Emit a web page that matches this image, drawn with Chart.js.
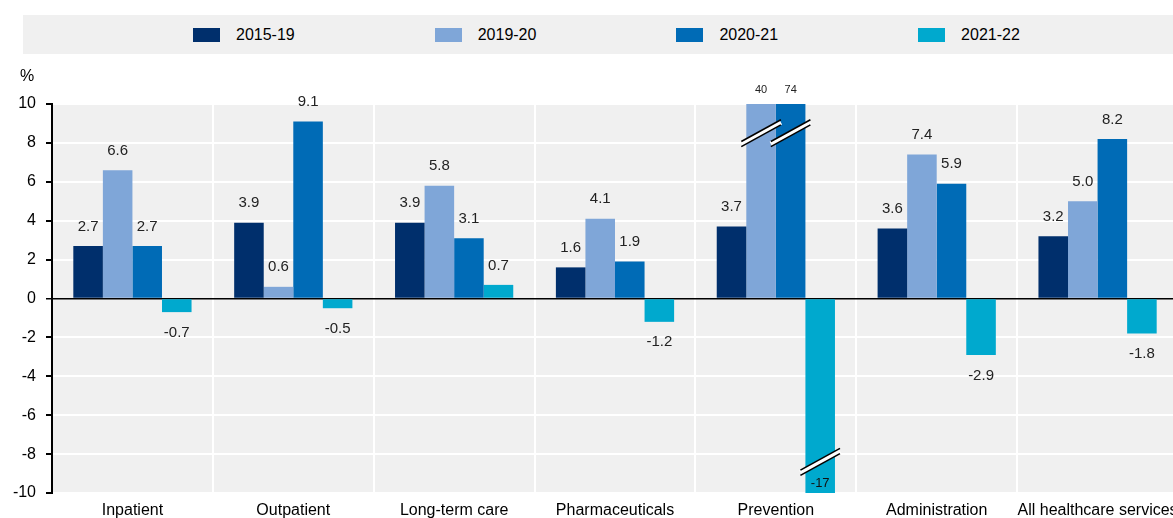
<!DOCTYPE html>
<html>
<head>
<meta charset="utf-8">
<script src="https://cdn.jsdelivr.net/npm/chart.js@4"></script>
<style>
  body { margin: 0; overflow: hidden; background: #fff; font-family: "Liberation Sans", Arial, sans-serif; }
  #wrap { position: relative; width: 1180px; height: 530px; }
  #legend { position: absolute; left: 23px; top: 15px; width: 1160px; height: 39px; background: #f0f0f0; }
  .item { position: absolute; top: 0; height: 39px; display: flex; align-items: center; font-size: 16px; color: #000; }
  .swatch { width: 27px; height: 14px; margin-right: 16px; }
</style>
</head>
<body>
<div id="wrap">
  <canvas id="chart" width="1180" height="530" style="width:1180px;height:530px"></canvas>
  <div id="legend"></div>
</div>
<script>
let categories = ['Inpatient', 'Outpatient', 'Long-term care', 'Pharmaceuticals', 'Prevention', 'Administration', 'All healthcare services'];
let seriesNames = ['2015-19', '2019-20', '2020-21', '2021-22'];
let s2015_19 = [2.7, 3.9, 3.9, 1.6, 3.7, 3.6, 3.2];
let s2019_20 = [6.6, 0.6, 5.8, 4.1, 40, 7.4, 5.0];
let s2020_21 = [2.7, 9.1, 3.1, 1.9, 74, 5.9, 8.2];
let s2021_22 = [-0.7, -0.5, 0.7, -1.2, -17, -2.9, -1.8];
let yMin = -10;
let yMax = 10;
let yStep = 2;

let colors = ['#002F6C', '#7FA6D8', '#006BB6', '#00A9CE'];
let seriesData = [s2015_19, s2019_20, s2020_21, s2021_22];
let font = '"Liberation Sans", Arial, sans-serif';

// html legend
let legend = document.getElementById('legend');
seriesNames.forEach((name, i) => {
    let item = document.createElement('div');
    item.className = 'item';
    item.style.left = (170 + i * 241.7) + 'px';
    let sw = document.createElement('span');
    sw.className = 'swatch';
    sw.style.background = colors[i];
    let txt = document.createElement('span');
    txt.textContent = name;
    item.appendChild(sw);
    item.appendChild(txt);
    legend.appendChild(item);
});

let backgroundPlugin = {
    id: 'bg',
    beforeDraw(chart) {
        let a = chart.chartArea;
        let ctx = chart.ctx;
        ctx.save();
        ctx.fillStyle = '#f0f0f0';
        ctx.fillRect(a.left, a.top, a.right - a.left, a.bottom - a.top);
        ctx.restore();
    }
};

function drawBreak(ctx, x, y, halfW) {
    let dx = halfW + 5;
    let dy = dx * 0.55;
    ctx.save();
    ctx.lineCap = 'butt';
    ctx.strokeStyle = '#ffffff';
    ctx.lineWidth = 5;
    ctx.beginPath();
    ctx.moveTo(x - dx, y + dy);
    ctx.lineTo(x + dx, y - dy);
    ctx.stroke();
    ctx.strokeStyle = '#000';
    ctx.lineWidth = 1.6;
    [-2.6, 2.6].forEach(off => {
        ctx.beginPath();
        ctx.moveTo(x - dx, y + dy + off);
        ctx.lineTo(x + dx, y - dy + off);
        ctx.stroke();
    });
    ctx.restore();
}

let labelPlugin = {
    id: 'labels',
    afterDatasetsDraw(chart) {
        let ctx = chart.ctx;
        let yScale = chart.scales.y;
        let a = chart.chartArea;
        ctx.save();
        ctx.textAlign = 'center';
        chart.data.datasets.forEach((ds, di) => {
            let meta = chart.getDatasetMeta(di);
            meta.data.forEach((bar, i) => {
                let v = ds.data[i];
                let halfW = bar.width / 2;
                if (v > yMax) {
                    drawBreak(ctx, bar.x, yScale.getPixelForValue(8.5), halfW);
                    ctx.fillStyle = '#222';
                    ctx.font = '11px ' + font;
                    ctx.textBaseline = 'middle';
                    ctx.fillText(String(v), bar.x, a.top - 14);
                } else if (v < yMin) {
                    drawBreak(ctx, bar.x, yScale.getPixelForValue(-8.4), halfW);
                    ctx.fillStyle = '#111';
                    ctx.font = '13px ' + font;
                    ctx.textBaseline = 'middle';
                    ctx.fillText(String(v), bar.x, a.bottom - 10);
                } else {
                    ctx.fillStyle = '#222';
                    ctx.font = '15px ' + font;
                    if (v >= 0) {
                        ctx.textBaseline = 'bottom';
                        ctx.fillText(v.toFixed(1), bar.x, bar.y - 12);
                    } else {
                        ctx.textBaseline = 'top';
                        ctx.fillText(v.toFixed(1), bar.x, bar.y + 13);
                    }
                }
            });
        });
        // unit label
        ctx.fillStyle = '#000';
        ctx.font = '16px ' + font;
        ctx.textBaseline = 'middle';
        ctx.fillText('%', 27, 77);
        ctx.restore();
    }
};

let chart = new Chart(document.getElementById('chart'), {
    type: 'bar',
    data: {
        labels: categories,
        datasets: seriesNames.map((name, i) => ({
            label: name,
            data: seriesData[i],
            backgroundColor: colors[i],
            borderWidth: 0,
            categoryPercentage: 0.735,
            barPercentage: 1.0
        }))
    },
    options: {
        responsive: false,
        animation: false,
        layout: { autoPadding: false, padding: { top: 104, left: 0, right: 2, bottom: 0 } },
        plugins: {
            legend: { display: false },
            tooltip: { enabled: false }
        },
        scales: {
            x: {
                grid: { color: '#ffffff', lineWidth: 2, drawTicks: false, offset: true },
                border: { display: false },
                ticks: { color: '#000', font: { family: font, size: 16 }, padding: 8, maxRotation: 0, autoSkip: false },
                afterFit(scale) {
                    scale.height = 37;
                    scale.paddingLeft = 0;
                    scale.paddingRight = 0;
                }
            },
            y: {
                min: yMin,
                max: yMax,
                grid: {
                    color: ctx => ctx.tick && ctx.tick.value === 0 ? '#000' : '#ffffff',
                    lineWidth: ctx => ctx.tick && ctx.tick.value === 0 ? 1.5 : 2,
                    tickColor: '#000',
                    tickLength: 6
                },
                border: { display: true, color: '#000', width: 2 },
                ticks: { stepSize: yStep, color: '#000', font: { family: font, size: 16 }, padding: 10 },
                afterFit(scale) {
                    scale.width = 52;
                    scale.paddingTop = 0;
                    scale.paddingBottom = 0;
                }
            }
        }
    },
    plugins: [backgroundPlugin, labelPlugin]
});
</script>
</body>
</html>
